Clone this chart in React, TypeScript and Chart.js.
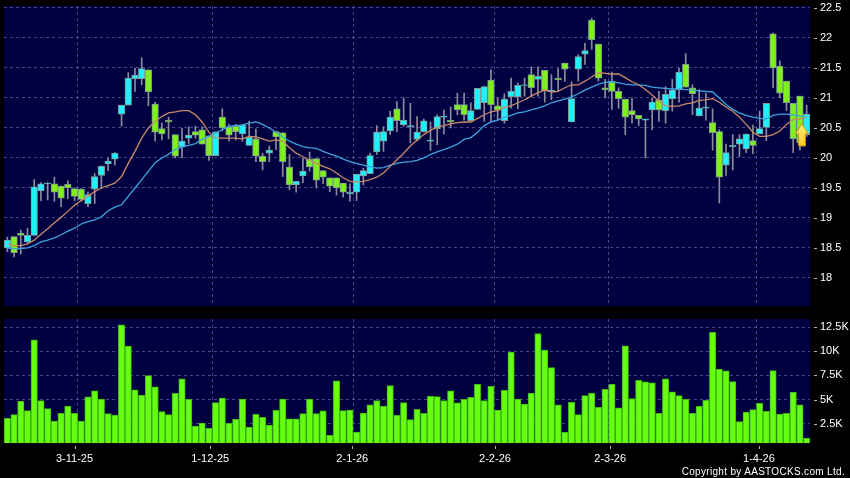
import React, { useEffect, useRef } from "react";
import { Chart, registerables } from "chart.js";

Chart.register(...registerables);

const opens = [18.5,18.69,18.75,18.6,18.71,19.45,19.57,19.57,19.53,19.56,19.49,19.48,19.24,19.48,19.71,19.9,19.98,20.73,20.88,21.32,
21.32,21.47,20.9,20.49,20.63,20.39,20.19,20.33,20.44,20.47,20.37,20.04,20.68,20.52,20.53,20.4,20.21,20.32,20.03,20.08,
20.44,20.42,19.85,19.55,19.7,19.98,19.99,19.79,19.67,19.67,19.58,19.4,19.43,19.7,19.74,20.1,20.28,20.45,20.82,20.55,
20.52,20.31,20.44,20.28,20.49,20.68,20.63,20.89,20.89,20.62,20.81,20.92,21.3,20.87,20.62,21.02,21.02,21.21,21.39,21.31,
21.46,21.11,21.33,21.58,20.6,21.48,21.73,22.3,21.9,21.17,21.28,21.11,20.98,20.79,20.71,20.63,20.8,20.97,20.79,20.99,
21.14,21.56,21.17,20.7,20.83,20.59,20.44,19.88,20.19,20.23,20.15,20.29,20.4,20.51,22.07,21.53,21.28,20.91,21.03,20.39];
const closes = [18.63,18.42,18.71,18.71,19.52,19.57,19.58,19.43,19.33,19.5,19.36,19.31,19.39,19.69,19.86,19.95,20.08,20.88,21.33,21.38,
21.49,21.1,20.43,20.4,20.6,20.03,20.28,20.38,20.38,20.23,20.04,20.43,20.5,20.38,20.44,20.55,20.35,20.03,19.94,20.13,
20.35,19.94,19.55,19.61,19.78,19.85,19.63,19.68,19.53,19.5,19.43,19.43,19.73,19.79,20.04,20.43,20.44,20.68,20.62,20.63,
20.54,20.43,20.62,20.3,20.69,20.7,20.6,20.8,20.72,20.79,21.16,21.19,20.89,20.8,20.98,21.11,21.21,21.22,21.17,21.36,
21.12,21.13,21.3,21.48,20.99,21.69,21.79,21.97,21.33,21.14,21.11,20.99,20.68,20.72,20.65,20.65,20.93,20.8,21.06,21.13,
21.43,21.18,21.07,20.83,20.85,20.42,19.68,20.09,20.21,20.32,20.4,20.21,20.49,20.91,21.5,21.08,20.92,20.32,20.25,20.73];
const highs = [18.68,18.69,18.8,18.83,19.64,19.59,19.59,19.68,19.53,19.62,19.5,19.49,19.43,19.74,19.87,20,20.09,20.88,21.42,21.5,
21.67,21.47,20.93,20.58,20.68,20.39,20.5,20.52,20.53,20.52,20.37,20.44,20.82,20.56,20.56,20.55,20.61,20.48,20.08,20.2,
20.44,20.42,20.06,19.61,20,20.1,19.99,19.79,19.67,19.67,19.58,19.57,19.73,19.83,20.08,20.54,20.52,20.78,20.94,21,
20.91,20.69,20.65,20.6,20.72,20.8,20.85,21.08,21.08,20.92,21.16,21.19,21.47,21,21.07,21.33,21.25,21.33,21.52,21.52,
21.46,21.39,21.49,21.58,21.27,21.72,21.91,22.33,21.9,21.31,21.43,21.17,20.98,21,20.71,20.65,21,21.11,21.19,21.31,
21.5,21.74,21.22,21.14,21.08,20.82,20.47,20.23,20.39,20.39,20.4,20.55,20.78,20.91,22.08,21.62,21.28,20.91,21.03,20.88];
const lows = [18.44,18.35,18.4,18.58,18.71,19.29,19.3,19.28,19.19,19.32,19.29,19.28,19.19,19.24,19.5,19.79,19.88,20.53,20.88,21.11,
21.22,20.87,20.28,20.3,20.32,20,20,20.24,20.33,20.23,19.96,20.04,20.45,20.28,20.3,20.28,20.21,19.94,19.8,19.94,
20.14,19.69,19.47,19.43,19.59,19.78,19.5,19.57,19.44,19.38,19.35,19.28,19.29,19.55,19.74,20.06,20.11,20.39,20.44,20.53,
20.25,20.28,20.43,20.13,20.22,20.4,20.5,20.72,20.63,20.62,20.81,20.61,20.61,20.63,20.58,20.83,20.82,21.03,21.02,21.03,
20.93,20.97,21.12,21.28,20.6,21.28,21.56,21.81,21.28,21,20.81,20.83,20.39,20.58,20.54,20,20.47,20.61,20.58,20.78,
20.93,21.18,20.72,20.7,20.63,20.13,19.25,19.71,19.8,20.02,20.09,20.07,20.4,20.29,21.17,21,20.79,20.09,20.13,20.36];
const maShort = [18.57,18.54,18.54,18.57,18.63,18.73,18.82,18.92,19.01,19.11,19.21,19.29,19.36,19.44,19.5,19.54,19.58,19.69,19.91,20.11,
20.33,20.5,20.61,20.69,20.75,20.77,20.79,20.79,20.72,20.6,20.43,20.33,20.33,20.33,20.33,20.32,20.36,20.35,20.32,20.28,
20.3,20.28,20.17,20.08,20.02,19.96,19.91,19.86,19.82,19.75,19.67,19.61,19.6,19.61,19.64,19.68,19.75,19.86,19.97,20.08,
20.2,20.3,20.39,20.46,20.52,20.54,20.57,20.59,20.6,20.6,20.66,20.72,20.77,20.79,20.84,20.87,20.92,20.97,21.03,21.09,
21.13,21.1,21.11,21.17,21.22,21.22,21.28,21.35,21.42,21.41,21.4,21.4,21.34,21.27,21.22,21.14,21.05,20.95,20.87,20.86,
20.87,20.9,20.92,20.96,20.97,20.99,20.93,20.85,20.78,20.68,20.56,20.43,20.36,20.36,20.39,20.45,20.56,20.64,20.65,20.68];
const maLong = [18.5,18.49,18.49,18.5,18.54,18.6,18.63,18.67,18.72,18.78,18.83,18.9,18.94,18.97,19.02,19.12,19.18,19.22,19.36,19.5,
19.64,19.78,19.92,20,20.06,20.14,20.18,20.21,20.24,20.31,20.36,20.42,20.47,20.53,20.54,20.55,20.58,20.6,20.56,20.5,
20.43,20.35,20.28,20.23,20.19,20.17,20.16,20.11,20.07,20.03,19.98,19.94,19.91,19.88,19.85,19.83,19.84,19.88,19.91,19.93,
19.94,19.96,20,20.06,20.1,20.14,20.18,20.23,20.31,20.34,20.43,20.54,20.6,20.63,20.68,20.71,20.75,20.77,20.8,20.83,
20.87,20.92,20.95,20.98,21.02,21.07,21.13,21.18,21.23,21.26,21.27,21.25,21.23,21.22,21.22,21.21,21.18,21.17,21.16,21.15,
21.15,21.14,21.13,21.12,21.11,21.1,21,20.89,20.81,20.75,20.71,20.68,20.66,20.65,20.71,20.73,20.73,20.72,20.7,20.67];
const volumes = [3.05,3.43,4.85,3.85,11.19,4.89,4.06,2.78,3.57,4.33,3.57,2.78,5.27,5.89,5.06,3.54,3.4,12.74,10.53,6,
5.44,7.48,6.31,3.75,3.43,5.65,7.14,5.03,2.26,2.57,2.02,4.68,5.16,2.54,2.95,5.06,2.15,3.47,3.16,2.36,
3.88,5.06,2.99,2.99,3.54,5.06,3.54,3.82,1.29,6.93,3.85,3.92,1.64,3.61,4.44,4.89,4.33,6.45,3.37,4.68,
2.92,3.99,3.57,5.34,5.3,4.89,5.89,4.65,5.03,5.23,6.58,4.89,6.38,3.92,5.96,9.91,5.06,4.54,5.68,11.84,
10.11,8.31,4.44,1.6,4.72,3.43,5.41,5.68,4.2,6.06,6.58,4.13,10.56,5.1,7,6.83,6.72,3.57,7.14,5.79,
5.41,5.03,3.57,4.3,4.92,11.95,8.14,7.97,6.86,2.71,3.71,3.95,4.61,3.78,8,3.5,3.57,5.75,4.44,1];
const priceTicks = [18,18.5,19,19.5,20,20.5,21,21.5,22,22.5];
const volumeTicks = [2.5,5,7.5,10,12.5];
const volumeTickLabels = ["2.5K","5K","7.5K","10K","12.5K"];
const dateLabels = ["3-11-25","1-12-25","2-1-26","2-2-26","2-3-26","1-4-26"];
const dateTickPositions = [10,30.2,51.35,72.6,89.75,111.9];
const dateGridPositions = [10.44,30.57,51.5,72.5,89.47,111.5];
const arrowIndex = 118.3;
const arrowTip = 20.57;
const arrowBase = 20.2;

const NAVY = "#000040";
const GRID = "rgba(115,115,185,0.6)";
const FONT = { family: "'Liberation Sans', Arial, sans-serif", size: 11 };

const xRange = { min: -0.5, max: 119.5, offset: false };
const fixTicks = (vals: number[]) => (s: any) => { s.ticks = vals.map((value) => ({ value })); };
const noPad = (s: any) => { s.paddingTop = 0; s.paddingBottom = 0; s.paddingLeft = 0; s.paddingRight = 0; };

const backdrop = {
  id: "backdrop",
  beforeDraw(c: any) {
    const { ctx, chartArea: a } = c;
    ctx.save();
    ctx.fillStyle = NAVY;
    ctx.fillRect(a.left, a.top, a.right - a.left, a.bottom - a.top);
    ctx.restore();
  },
};

const axisMarks = {
  id: "axisMarks",
  afterDraw(c: any) {
    const { ctx, chartArea: a, scales } = c;
    ctx.save();
    ctx.strokeStyle = "#b0b0b0";
    ctx.lineWidth = 1;
    ctx.beginPath();
    scales.y.ticks.forEach((t: any) => {
      const y = Math.round(scales.y.getPixelForValue(t.value)) + 0.5;
      ctx.moveTo(a.right + 4, y);
      ctx.lineTo(a.right + 7, y);
    });
    if (scales.x2) {
      scales.x2.ticks.forEach((t: any) => {
        const x = Math.round(scales.x2.getPixelForValue(t.value)) + 0.5;
        ctx.moveTo(x, a.bottom + 3);
        ctx.lineTo(x, a.bottom + 6);
      });
    }
    ctx.stroke();
    ctx.restore();
  },
};

const arrow = {
  id: "arrow",
  afterDatasetsDraw(c: any) {
    const { ctx, scales } = c;
    const x = scales.x.getPixelForValue(arrowIndex);
    const t = scales.y.getPixelForValue(arrowTip);
    const b = scales.y.getPixelForValue(arrowBase);
    const g = ctx.createLinearGradient(0, t, 0, b);
    g.addColorStop(0, "#fff27a");
    g.addColorStop(1, "#ffc81e");
    ctx.save();
    ctx.fillStyle = g;
    ctx.strokeStyle = "#c98f1c";
    ctx.lineWidth = 1;
    ctx.beginPath();
    ctx.moveTo(x, t);
    ctx.lineTo(x + 6.5, t + 10);
    ctx.lineTo(x + 3.5, t + 10);
    ctx.lineTo(x + 3.5, b);
    ctx.lineTo(x - 3.5, b);
    ctx.lineTo(x - 3.5, t + 10);
    ctx.lineTo(x - 6.5, t + 10);
    ctx.closePath();
    ctx.fill();
    ctx.stroke();
    ctx.restore();
  },
};

const xGrid = {
  type: "linear" as const,
  ...xRange,
  afterBuildTicks: fixTicks(dateGridPositions),
  afterFit: (s: any) => { noPad(s); s.height = 0; },
  ticks: { display: false },
  border: { display: false, dash: [3, 3] },
  grid: { color: GRID, drawTicks: false, lineWidth: 1, offset: false },
};
const yBase = {
  position: "right" as const,
  afterFit: (s: any) => { noPad(s); s.width = 40; },
  border: { display: false, dash: [3, 3] },
  grid: { color: GRID, drawTicks: false, lineWidth: 1 },
};

export default function App() {
  const priceRef = useRef<HTMLCanvasElement>(null);
  const volRef = useRef<HTMLCanvasElement>(null);

  useEffect(() => {
    document.body.style.margin = "0";
    document.body.style.background = "#000";
    const idx = opens.map((_, i) => i);
    const price = new Chart(priceRef.current!, {
      type: "bar",
      data: {
        datasets: [
          {
            type: "bar",
            order: 4,
            grouped: false,
            data: idx.map((i) => ({ x: i, y: [lows[i], highs[i]] })),
            barThickness: 1,
            backgroundColor: "#8c8c9e",
            borderWidth: 0,
          },
          {
            type: "bar",
            order: 3,
            grouped: false,
            data: idx.map((i) => ({ x: i, y: [opens[i], closes[i]] })),
            barThickness: 6.6,
            backgroundColor: idx.map((i) => (closes[i] >= opens[i] ? "#1ff0ff" : "#7ff01c")),
            borderColor: "#7f9a8f",
            borderWidth: 1,
            borderSkipped: false,
          },
          {
            type: "line",
            order: 2,
            data: idx.map((i) => ({ x: i, y: maLong[i] })),
            borderColor: "#3ba4e0",
            borderWidth: 1.3,
            pointRadius: 0,
            tension: 0,
          },
          {
            type: "line",
            order: 1,
            data: idx.map((i) => ({ x: i, y: maShort[i] })),
            borderColor: "#c98a68",
            borderWidth: 1.3,
            pointRadius: 0,
            tension: 0,
          },
        ] as any,
      },
      options: {
        animation: false,
        responsive: false,
        layout: { padding: { left: 4, right: 0, top: 6, bottom: 4 } },
        plugins: { legend: { display: false }, tooltip: { enabled: false } },
        scales: {
          x: xGrid,
          y: {
            ...yBase,
            min: 17.533,
            max: 22.533,
            afterBuildTicks: fixTicks(priceTicks),
            ticks: { color: "#fff", font: FONT, padding: 10, callback: (v: any) => String(v) },
          },
        },
      } as any,
      plugins: [backdrop, axisMarks, arrow],
    });
    const vol = new Chart(volRef.current!, {
      type: "bar",
      data: {
        datasets: [
          {
            data: idx.map((i) => ({ x: i, y: volumes[i] })),
            barThickness: 6.4,
            backgroundColor: "#66ff10",
            borderColor: "#3fb812",
            borderWidth: 1,
            borderSkipped: "bottom",
          },
        ] as any,
      },
      options: {
        animation: false,
        responsive: false,
        layout: { padding: { left: 4, right: 0, top: 9, bottom: 0 } },
        plugins: { legend: { display: false }, tooltip: { enabled: false } },
        scales: {
          x: xGrid,
          x2: {
            type: "linear",
            position: "bottom",
            ...xRange,
            afterBuildTicks: fixTicks(dateTickPositions),
            afterFit: (s: any) => { noPad(s); s.height = 35; },
            border: { display: false },
            grid: { display: false, drawTicks: false },
            ticks: {
              color: "#fff",
              font: FONT,
              padding: 9,
              maxRotation: 0,
              autoSkip: false,
              callback: (_: any, i: number) => dateLabels[i],
            },
          },
          y: {
            ...yBase,
            min: 0.5,
            max: 13.34,
            afterBuildTicks: fixTicks(volumeTicks),
            ticks: { color: "#fff", font: FONT, padding: 10, callback: (_: any, i: number) => volumeTickLabels[i] },
          },
        },
      } as any,
      plugins: [backdrop, axisMarks],
    });
    return () => {
      price.destroy();
      vol.destroy();
    };
  }, []);

  return (
    <div style={{ position: "fixed", left: 0, top: 0, width: 850, height: 478, background: "#000", overflow: "hidden" }}>
      <canvas ref={priceRef} width={850} height={310} style={{ position: "absolute", left: 0, top: 0 }} />
      <canvas ref={volRef} width={850} height={168} style={{ position: "absolute", left: 0, top: 310 }} />
      <div
        style={{
          position: "absolute",
          right: 5,
          top: 466,
          color: "#fff",
          font: "10px 'Liberation Sans', Arial, sans-serif",
          letterSpacing: "0.32px",
          whiteSpace: "nowrap",
        }}
      >
        Copyright by AASTOCKS.com Ltd.
      </div>
    </div>
  );
}
